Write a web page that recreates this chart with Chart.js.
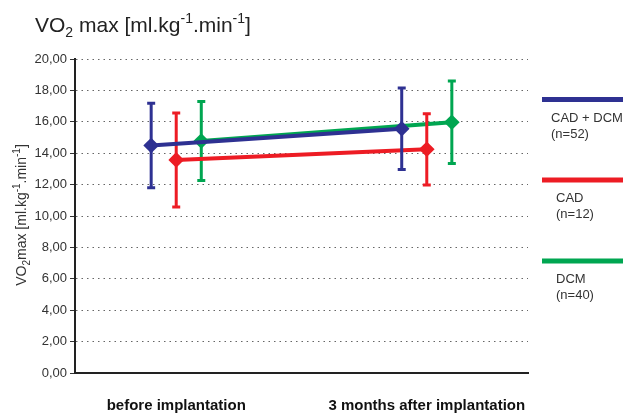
<!DOCTYPE html>
<html>
<head>
<meta charset="utf-8">
<script src="https://cdn.jsdelivr.net/npm/chart.js@4.4.1/dist/chart.umd.min.js"></script>
<style>
  body { margin: 0; background: #fff; }
  #wrap { width: 627px; height: 414px; }
</style>
</head>
<body>
<div id="wrap"><canvas id="chart" width="627" height="414"></canvas></div>
<script>
// valores
var categorias = ["before implantation", "3 months after implantation"];
var series = ["CAD + DCM", "CAD", "DCM"];
var nPacientes = [52, 12, 40];
var mediaCadDcm = [14.49, 15.56];
var dpCadDcm = [2.69, 2.6];
var mediaCad = [13.57, 14.25];
var dpCad = [2.99, 2.27];
var mediaDcm = [14.78, 15.97];
var dpDcm = [2.52, 2.63];
var yTicks = [0, 2, 4, 6, 8, 10, 12, 14, 16, 18, 20];

var cores = ["#2e3192", "#ed1c24", "#00a651"];
var deslocamento = [-0.1, 0, 0.1];

function pontos(medias, desl) {
  return medias.map(function (m, i) { return { x: i + 1 + desl, y: m }; });
}

// texto com subscrito / sobrescrito
function textoRico(ctx, partes, x, y, tam) {
  var cx = x;
  partes.forEach(function (p) {
    var t = p[1] === "n" ? tam : Math.round(tam * 0.68);
    var dy = p[1] === "sub" ? tam * 0.25 : p[1] === "sup" ? -tam * 0.42 : 0;
    ctx.font = t + "px 'Liberation Sans', Arial, sans-serif";
    ctx.fillText(p[0], cx, y + dy);
    cx += ctx.measureText(p[0]).width;
  });
  return cx - x;
}

function larguraRica(ctx, partes, tam) {
  var w = 0;
  partes.forEach(function (p) {
    var t = p[1] === "n" ? tam : Math.round(tam * 0.68);
    ctx.font = t + "px 'Liberation Sans', Arial, sans-serif";
    w += ctx.measureText(p[0]).width;
  });
  return w;
}

var erroPlugin = {
  id: "barrasErro",
  afterDatasetDraw: function (chart, args) {
    var ds = chart.data.datasets[args.index];
    var ctx = chart.ctx, xs = chart.scales.x, ys = chart.scales.y;
    ctx.save();
    ctx.strokeStyle = ds.borderColor;
    ctx.lineWidth = 3;
    ds.data.forEach(function (p, i) {
      var px = xs.getPixelForValue(p.x);
      var top = ys.getPixelForValue(p.y + ds.sd[i]);
      var bot = ys.getPixelForValue(p.y - ds.sd[i]);
      ctx.beginPath();
      ctx.moveTo(px, top); ctx.lineTo(px, bot);
      ctx.moveTo(px - 4, top); ctx.lineTo(px + 4, top);
      ctx.moveTo(px - 4, bot); ctx.lineTo(px + 4, bot);
      ctx.stroke();
    });
    ctx.restore();
  }
};

var textosPlugin = {
  id: "textos",
  afterDraw: function (chart) {
    var ctx = chart.ctx;
    ctx.save();
    ctx.fillStyle = "#222";
    ctx.textBaseline = "alphabetic";
    textoRico(ctx, [["VO", "n"], ["2", "sub"], [" max [ml.kg", "n"], ["-1", "sup"], [".min", "n"], ["-1", "sup"], ["]", "n"]], 35, 32, 21);

    // titulo do eixo y
    var partes = [["VO", "n"], ["2", "sub"], ["max [ml.kg", "n"], ["-1", "sup"], [".min", "n"], ["-1", "sup"], ["]", "n"]];
    var w = larguraRica(ctx, partes, 14);
    ctx.translate(26, 215);
    ctx.rotate(-Math.PI / 2);
    ctx.fillStyle = "#333";
    textoRico(ctx, partes, -w / 2, 0, 14);
    ctx.restore();

    // legenda
    ctx.save();
    var ys = [99.5, 180, 261];
    series.forEach(function (s, i) {
      ctx.fillStyle = cores[i];
      ctx.fillRect(542, ys[i] - 2.5, 81, 5);
      ctx.fillStyle = "#333";
      ctx.font = "13px 'Liberation Sans', Arial, sans-serif";
      var x0 = i === 0 ? 551 : 556;
      ctx.fillText(s, x0, ys[i] + 22);
      ctx.fillText("(n=" + nPacientes[i] + ")", x0, ys[i] + 38);
    });
    ctx.restore();
  }
};

var medias = [mediaCadDcm, mediaCad, mediaDcm];
var dps = [dpCadDcm, dpCad, dpDcm];

var ctx = document.getElementById("chart").getContext("2d");
var chart = new Chart(ctx, {
  type: "line",
  data: {
    datasets: series.map(function (s, i) {
      return {
        label: s,
        data: pontos(medias[i], deslocamento[i]),
        sd: dps[i],
        borderColor: cores[i],
        backgroundColor: cores[i],
        borderWidth: 4,
        pointStyle: "rectRot",
        pointRadius: 5,
        pointHoverRadius: 5,
        tension: 0
      };
    })
  },
  options: {
    responsive: false,
    animation: false,
    events: [],
    layout: { padding: { top: 59, right: 99, left: 0, bottom: 0 } },
    plugins: { legend: { display: false }, tooltip: { enabled: false }, title: { display: false } },
    scales: {
      x: {
        type: "linear",
        min: 0.596,
        max: 2.404,
        afterBuildTicks: function (s) {
          s.ticks = categorias.map(function (c, i) { return { value: i + 1 }; });
        },
        afterFit: function (s) { s.height = 41; },
        ticks: {
          callback: function (v) { return categorias[v - 1]; },
          color: "#111",
          font: { family: "'Liberation Sans Narrow', 'Liberation Sans', Arial, sans-serif", size: 15, weight: "bold" },
          padding: 24,
          maxRotation: 0,
          autoSkip: false
        },
        grid: { display: false, drawTicks: false },
        border: { display: true, color: "#222", width: 2 }
      },
      y: {
        min: 0,
        max: 20,
        afterBuildTicks: function (s) {
          s.ticks = yTicks.map(function (v) { return { value: v }; });
        },
        afterFit: function (s) { s.width = 75; },
        ticks: {
          callback: function (v) { return v.toFixed(2).replace(".", ","); },
          color: "#333",
          font: { family: "'Liberation Sans', Arial, sans-serif", size: 13 },
          padding: 3
        },
        grid: {
          color: function (c) { return c.tick && c.tick.value === 0 ? "rgba(0,0,0,0)" : "#666"; },
          tickBorderDash: [0, 0],
          tickColor: "#333",
          tickLength: 5,
          lineWidth: 1
        },
        border: { display: true, color: "#222", width: 2, dash: [1.5, 4] }
      }
    }
  },
  plugins: [erroPlugin, textosPlugin]
});
</script>
</body>
</html>
